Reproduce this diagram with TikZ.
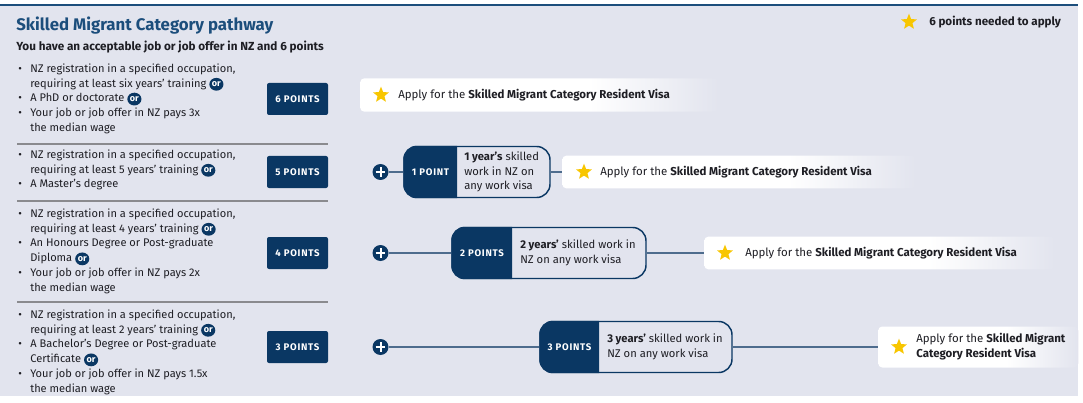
\documentclass[tikz,border=0pt]{standalone}
\usepackage{fontspec}
\setmainfont{Fira Sans}
\newfontfamily\tagfont[LetterSpace=8]{Fira Sans}
\usepackage{tikz}
\usetikzlibrary{shapes.geometric, positioning, calc}
\definecolor{panelbg}{RGB}{226, 228, 238}
\definecolor{navy}{RGB}{10, 55, 99}
\definecolor{titleblue}{RGB}{28, 78, 124}
\definecolor{linkblue}{RGB}{78, 108, 141}
\definecolor{rulegray}{RGB}{138, 138, 142}
\definecolor{staryellow}{RGB}{248, 198, 0}
\definecolor{inkgray}{RGB}{30, 30, 36}
\pgfdeclarehorizontalshading{applyfade}{100bp}{color(0bp)=(white); color(25bp)=(white); color(57bp)=(white); color(75bp)=(panelbg); color(100bp)=(panelbg)}
\newcommand{\bul}{\makebox[9pt][l]{\textbullet}}
\newcommand{\hang}{\hspace*{9pt}}
\newcommand{\orb}{\tikz[baseline=-0.5ex]\node[orbadge]{or};}

\begin{document}
\begin{tikzpicture}[x=0.75pt, y=-0.75pt,
  bullets/.style={anchor=north west, inner sep=0, align=left, font=\fontsize{8.3}{11.1}\selectfont, text=inkgray},
  orbadge/.style={ellipse, fill=navy, text=white, inner sep=0, minimum width=10.6pt, minimum height=9.6pt, anchor=center, text width={}, align=center, font=\fontsize{6.8}{6.8}\selectfont\bfseries},
  ptsbox/.style={fill=navy, text=white, rounded corners=1.5pt, minimum width=45.75pt, minimum height=24pt, inner sep=0, font=\tagfont\bfseries\fontsize{7.2}{8}\selectfont},
  rowrule/.style={draw=rulegray, line width=0.9pt},
  plusdot/.style={circle, fill=navy, minimum size=12pt, inner sep=0,
    path picture={\draw[white, line width=1.5pt]
      ([xshift=-3.6pt]path picture bounding box.center) -- ([xshift=3.6pt]path picture bounding box.center)
      ([yshift=-3.6pt]path picture bounding box.center) -- ([yshift=3.6pt]path picture bounding box.center);}},
  pill/.style={draw=navy, line width=1.1pt, fill=panelbg, rounded corners=10pt, inner sep=0},
  tagtext/.style={text=white, inner sep=0, font=\tagfont\bfseries\fontsize{7.2}{8}\selectfont},
  worktext/.style={anchor=west, inner sep=0, align=left, text=inkgray, font=\fontsize{8.4}{11}\selectfont},
  applybox/.style={shade, shading=applyfade, rounded corners=3pt, anchor=west, inner sep=0},
  applytext/.style={anchor=west, inner sep=0, align=left, text=inkgray, font=\fontsize{8.6}{11.2}\selectfont},
  starmark/.style={star, star points=5, star point ratio=2.3, fill=staryellow, inner sep=0, minimum size=12.5pt},
  link/.style={draw=linkblue, line width=1.1pt}
]
  \useasboundingbox (0,0) rectangle (1083,403);
  \fill[panelbg] (0,5) rectangle (1078,396);
  \draw[titleblue, line width=1.1pt] (0,5) -- (1078,5);

  % heading and legend
  \node[anchor=west, inner sep=0, text=titleblue, font=\fontsize{12.6}{14}\selectfont\bfseries] (title) at (16,26) {Skilled Migrant Category pathway};
  \node[anchor=west, inner sep=0, text=inkgray, font=\fontsize{8.8}{10}\selectfont\bfseries] (subtitle) at (16,47) {You have an acceptable job or job offer in NZ and 6 points};
  \node[starmark] (legendstar) at (909,22) {};
  \node[anchor=west, inner sep=0, text=inkgray, font=\fontsize{8.7}{10}\selectfont\bfseries] (legend) at (929,22) {6 points needed to apply};

  % requirements
  \node[bullets] (req6) at (18,63.5) {\bul NZ registration in a specified occupation,\\ \hang requiring at least six years' training \orb\\ \bul A PhD or doctorate \orb\\ \bul Your job or job offer in NZ pays 3x\\ \hang the median wage};
  \node[bullets] (req5) at (18,149.5) {\bul NZ registration in a specified occupation,\\ \hang requiring at least 5 years' training \orb\\ \bul A Master's degree};
  \node[bullets] (req4) at (18,208.5) {\bul NZ registration in a specified occupation,\\ \hang requiring at least 4 years' training \orb\\ \bul An Honours Degree or Post-graduate\\ \hang Diploma \orb\\ \bul Your job or job offer in NZ pays 2x\\ \hang the median wage};
  \node[bullets] (req3) at (18,309.5) {\bul NZ registration in a specified occupation,\\ \hang requiring at least 2 years' training \orb\\ \bul A Bachelor's Degree or Post-graduate\\ \hang Certificate \orb\\ \bul Your job or job offer in NZ pays 1.5x\\ \hang the median wage};
  \draw[rowrule] (17,144) -- (328,144);
  \draw[rowrule] (17,201) -- (328,201);
  \draw[rowrule] (17,302) -- (328,302);

  \node[ptsbox] (pts6) at (297.5,99) {6 POINTS};
  \node[ptsbox] (pts5) at (297.5,172) {5 POINTS};
  \node[ptsbox] (pts4) at (297.5,253) {4 POINTS};
  \node[ptsbox] (pts3) at (297.5,347) {3 POINTS};

  % 6 points: apply straight away
  \node[applybox, minimum width=268.5pt, minimum height=25pt] (apply6) at (360,95) {};
  \node[starmark] (star6) at (381,95) {};
  \node[applytext] (applytxt6) at (398,95) {Apply for the \textbf{Skilled Migrant Category Resident Visa}};

  % 5 points
  \node[plusdot] (plus5) at (380.5,172) {};
  \node[pill, minimum width=109.5pt, minimum height=38.25pt] (pill5) at (477,172) {};
  \begin{scope}
    \clip (pill5.north west) rectangle (457,200);
    \fill[navy, rounded corners=10pt] (pill5.north west) rectangle (pill5.south east);
  \end{scope}
  \node[tagtext] (tag5) at (430.5,172) {1 POINT};
  \node[worktext] (work5) at (464,172) {\textbf{1 year's} skilled\\ work in NZ on\\ any work visa};
  \node[applybox, minimum width=265pt, minimum height=24.5pt] (apply5) at (562,172) {};
  \node[starmark] (star5) at (584,172) {};
  \node[applytext] (applytxt5) at (600,172) {Apply for the \textbf{Skilled Migrant Category Resident Visa}};
  \draw[link] (plus5) -- (pill5);
  \draw[link] (pill5) -- (apply5);

  % 4 points
  \node[plusdot] (plus4) at (380.5,253) {};
  \node[pill, minimum width=145.5pt, minimum height=38.25pt] (pill4) at (549,253) {};
  \begin{scope}
    \clip (pill4.north west) rectangle (512,280);
    \fill[navy, rounded corners=10pt] (pill4.north west) rectangle (pill4.south east);
  \end{scope}
  \node[tagtext] (tag4) at (482,253) {2 POINTS};
  \node[worktext] (work4) at (520,253) {\textbf{2 years'} skilled work in\\ NZ on any work visa};
  \node[applybox, minimum width=263pt, minimum height=24.5pt] (apply4) at (704,253) {};
  \node[starmark] (star4) at (725,253) {};
  \node[applytext] (applytxt4) at (745,253) {Apply for the \textbf{Skilled Migrant Category Resident Visa}};
  \draw[link] (plus4) -- (pill4);
  \draw[link] (pill4) -- (apply4);

  % 3 points
  \node[plusdot] (plus3) at (380.5,347) {};
  \node[pill, minimum width=144pt, minimum height=38.25pt] (pill3) at (636,347) {};
  \begin{scope}
    \clip (pill3.north west) rectangle (599,375);
    \fill[navy, rounded corners=10pt] (pill3.north west) rectangle (pill3.south east);
  \end{scope}
  \node[tagtext] (tag3) at (569.5,347) {3 POINTS};
  \node[worktext] (work3) at (607,347) {\textbf{3 years'} skilled work in\\ NZ on any work visa};
  \node[applybox, minimum width=150pt, minimum height=30.75pt] (apply3) at (878,347) {};
  \node[starmark] (star3) at (899,347) {};
  \node[applytext] (applytxt3) at (916,347) {Apply for the \textbf{Skilled Migrant}\\ \textbf{Category Resident Visa}};
  \draw[link] (plus3) -- (pill3);
  \draw[link] (pill3) -- (apply3);
\end{tikzpicture}
\end{document}
